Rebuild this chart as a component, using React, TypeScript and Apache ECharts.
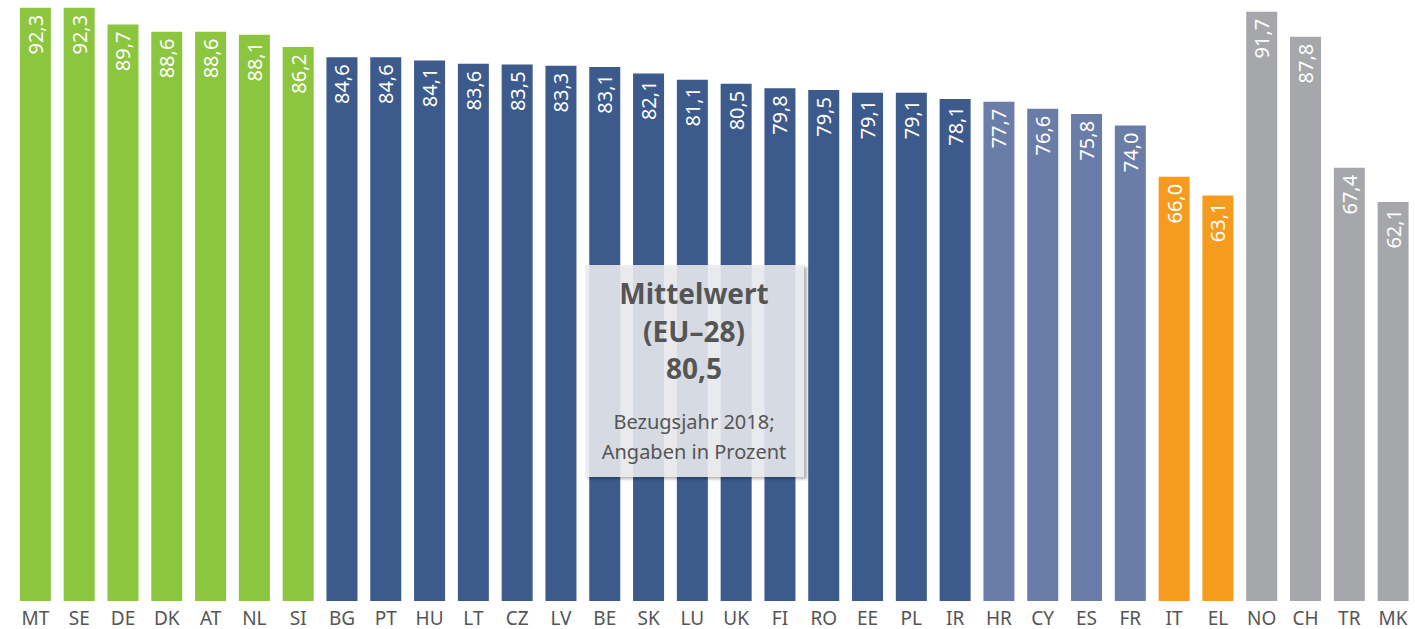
import React, { useEffect, useRef } from "react";
import * as echarts from "echarts";

const categories = ["MT","SE","DE","DK","AT","NL","SI","BG","PT","HU","LT","CZ","LV","BE","SK","LU","UK","FI","RO","EE","PL","IR","HR","CY","ES","FR","IT","EL","NO","CH","TR","MK"];
const values = [92.3,92.3,89.7,88.6,88.6,88.1,86.2,84.6,84.6,84.1,83.6,83.5,83.3,83.1,82.1,81.1,80.5,79.8,79.5,79.1,79.1,78.1,77.7,76.6,75.8,74.0,66.0,63.1,91.7,87.8,67.4,62.1];
const groups = ["g","g","g","g","g","g","g","b","b","b","b","b","b","b","b","b","b","b","b","b","b","b","l","l","l","l","o","o","x","x","x","x"];
const groupColors: Record<string, string> = {
  g: "#8cc63f",
  b: "#3c5a8c",
  l: "#6a7ca8",
  o: "#f59c1e",
  x: "#a6a7ab",
};
const boxLines = ["Mittelwert", "(EU–28)", "80,5"];
const noteLines = ["Bezugsjahr 2018;", "Angaben in Prozent"];

const FONT = "'Noto Sans', 'Open Sans', sans-serif";

export default function App() {
  const ref = useRef<HTMLDivElement>(null);
  useEffect(() => {
    if (!ref.current) return;
    const chart = echarts.init(ref.current, null, { renderer: "svg" });
    const cx = 694;
    chart.setOption({
      animation: false,
      backgroundColor: "#ffffff",
      grid: { left: 13.5, right: -5, top: 4, bottom: 28, containLabel: false },
      xAxis: {
        type: "category",
        data: categories,
        axisLine: { show: false },
        axisTick: { show: false },
        axisLabel: { color: "#555555", fontSize: 19, fontFamily: FONT, margin: 7, interval: 0 },
      },
      yAxis: { type: "value", min: 0, max: 92.9, show: false, splitLine: { show: false } },
      series: [
        {
          type: "bar",
          barWidth: 31,
          data: values.map((v, i) => ({ value: v, itemStyle: { color: groupColors[groups[i]] } })),
          label: {
            show: true,
            position: "insideTop",
            distance: 7,
            rotate: 90,
            align: "right",
            verticalAlign: "middle",
            color: "#ffffff",
            fontSize: 20,
            fontFamily: FONT,
            formatter: (p: any) => Number(p.value).toFixed(1).replace(".", ","),
          },
        },
      ],
      graphic: [
        {
          type: "rect",
          shape: { x: 585, y: 265, width: 219, height: 212 },
          style: {
            fill: "rgba(236,237,241,0.86)",
            shadowBlur: 3,
            shadowOffsetX: 3,
            shadowOffsetY: 2,
            shadowColor: "rgba(0,0,0,0.35)",
          },
          z: 100,
        },
        ...boxLines.map((t, i) => ({
          type: "text",
          x: cx,
          y: 293 + i * 37.5,
          z: 101,
          style: {
            text: t,
            fill: "#555555",
            font: `bold 28px ${FONT}`,
            textAlign: "center",
            textVerticalAlign: "middle",
          },
        })),
        ...noteLines.map((t, i) => ({
          type: "text",
          x: cx,
          y: 421 + i * 30,
          z: 101,
          style: {
            text: t,
            fill: "#555555",
            font: `20px ${FONT}`,
            textAlign: "center",
            textVerticalAlign: "middle",
          },
        })),
      ],
    });
    return () => chart.dispose();
  }, []);
  return (
    <div
      ref={ref}
      style={{ position: "absolute", left: 0, top: 0, width: 1415, height: 629 }}
    />
  );
}
